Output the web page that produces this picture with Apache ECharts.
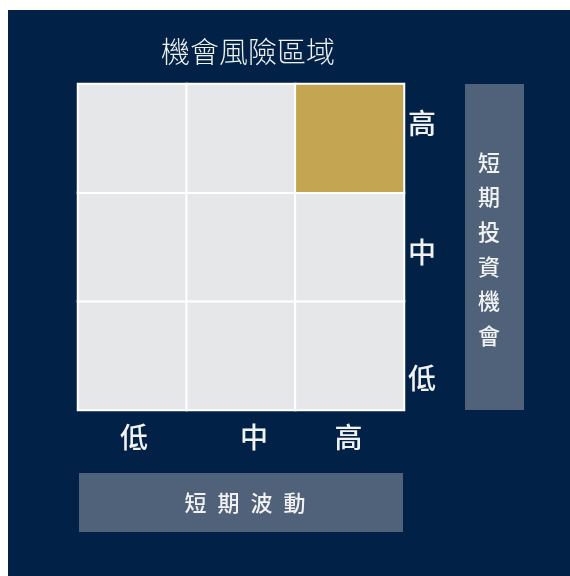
<!DOCTYPE html>
<html>
<head>
<meta charset="utf-8">
<script src="https://cdn.jsdelivr.net/npm/echarts@6/dist/echarts.min.js"></script>
<style>
html,body{margin:0;padding:0;background:#ffffff;}
#main{position:absolute;left:8px;top:10px;width:562px;height:566px;}
</style>
</head>
<body>
<div id="main"></div>
<script>
// ---- data ----
const titleText = '機會風險區域';
const xCategories = ['低', '中', '高'];   // 短期波動
const yCategories = ['低', '中', '高'];   // 短期投資機會
const xAxisName = '短期波動';
const yAxisName = '短期投資機會';
// [xIndex, yIndex, flag] : 1 = highlighted zone
const cellValues = [
  [0, 0, 0], [1, 0, 0], [2, 0, 0],
  [0, 1, 0], [1, 1, 0], [2, 1, 0],
  [0, 2, 0], [1, 2, 0], [2, 2, 1]
];

// ---- layout (offsets relative to chart div at 8,10) ----
const OX = 8, OY = 10;
const gridLeft = 78 - OX, gridTop = 84 - OY, gridSize = 326;
// label anchor positions along the 0..3 axis extent
const xLabelPos = [0.515, 1.62, 2.49];
const yLabelPos = [0.294, 1.454, 2.64];

const chart = echarts.init(document.getElementById('main'));
const FONT = '"Noto Sans CJK TC", "Noto Sans CJK SC", sans-serif';

chart.setOption({
  backgroundColor: '#012246',
  animation: false,
  grid: { left: gridLeft, top: gridTop, width: gridSize, height: gridSize, containLabel: false },
  xAxis: [
    { type: 'category', data: xCategories, show: false },
    { type: 'value', min: 0, max: 3, position: 'bottom',
      axisLine: { show: false }, axisTick: { show: false }, splitLine: { show: false },
      axisLabel: { customValues: xLabelPos, margin: 13, color: '#f2f2f2', fontSize: 28,
        fontFamily: FONT, fontWeight: 500,
        formatter: (v) => xCategories[xLabelPos.indexOf(v)] || '' } }
  ],
  yAxis: [
    { type: 'category', data: yCategories, show: false },
    { type: 'value', min: 0, max: 3, position: 'right',
      axisLine: { show: false }, axisTick: { show: false }, splitLine: { show: false },
      axisLabel: { customValues: yLabelPos, margin: 4, color: '#f2f2f2', fontSize: 28,
        fontFamily: FONT, fontWeight: 500,
        formatter: (v) => yCategories[yLabelPos.indexOf(v)] || '' } }
  ],
  visualMap: {
    show: false, type: 'piecewise', dimension: 2,
    pieces: [ { value: 0, color: '#E6E7E9' }, { value: 1, color: '#C3A552' } ]
  },
  series: [{
    type: 'heatmap', xAxisIndex: 0, yAxisIndex: 0,
    data: cellValues,
    label: { show: false },
    itemStyle: { borderColor: '#ffffff', borderWidth: 2 },
    emphasis: { disabled: true }
  }],
  graphic: [
    { type: 'text', x: 248 - OX, y: 52 - OY,
      style: { text: titleText, fill: '#f0f0f0', font: '300 29px ' + FONT,
        textAlign: 'center', textVerticalAlign: 'middle' } },
    { type: 'rect', shape: { x: 465 - OX, y: 84 - OY, width: 59, height: 326 },
      style: { fill: '#4F6279' } },
    { type: 'text', x: 489 - OX, y: 249 - OY,
      style: { text: yAxisName.split('').join('\n'), fill: '#f2f2f2',
        font: '500 22px ' + FONT, lineHeight: 34.6,
        textAlign: 'center', textVerticalAlign: 'middle' } },
    { type: 'rect', shape: { x: 79 - OX, y: 473 - OY, width: 324, height: 59 },
      style: { fill: '#4F6279' } },
    { type: 'text', x: 245 - OX, y: 503 - OY,
      style: { text: xAxisName.split('').join('\u2002'), fill: '#f2f2f2',
        font: '500 22px ' + FONT,
        textAlign: 'center', textVerticalAlign: 'middle' } }
  ]
});
</script>
</body>
</html>
